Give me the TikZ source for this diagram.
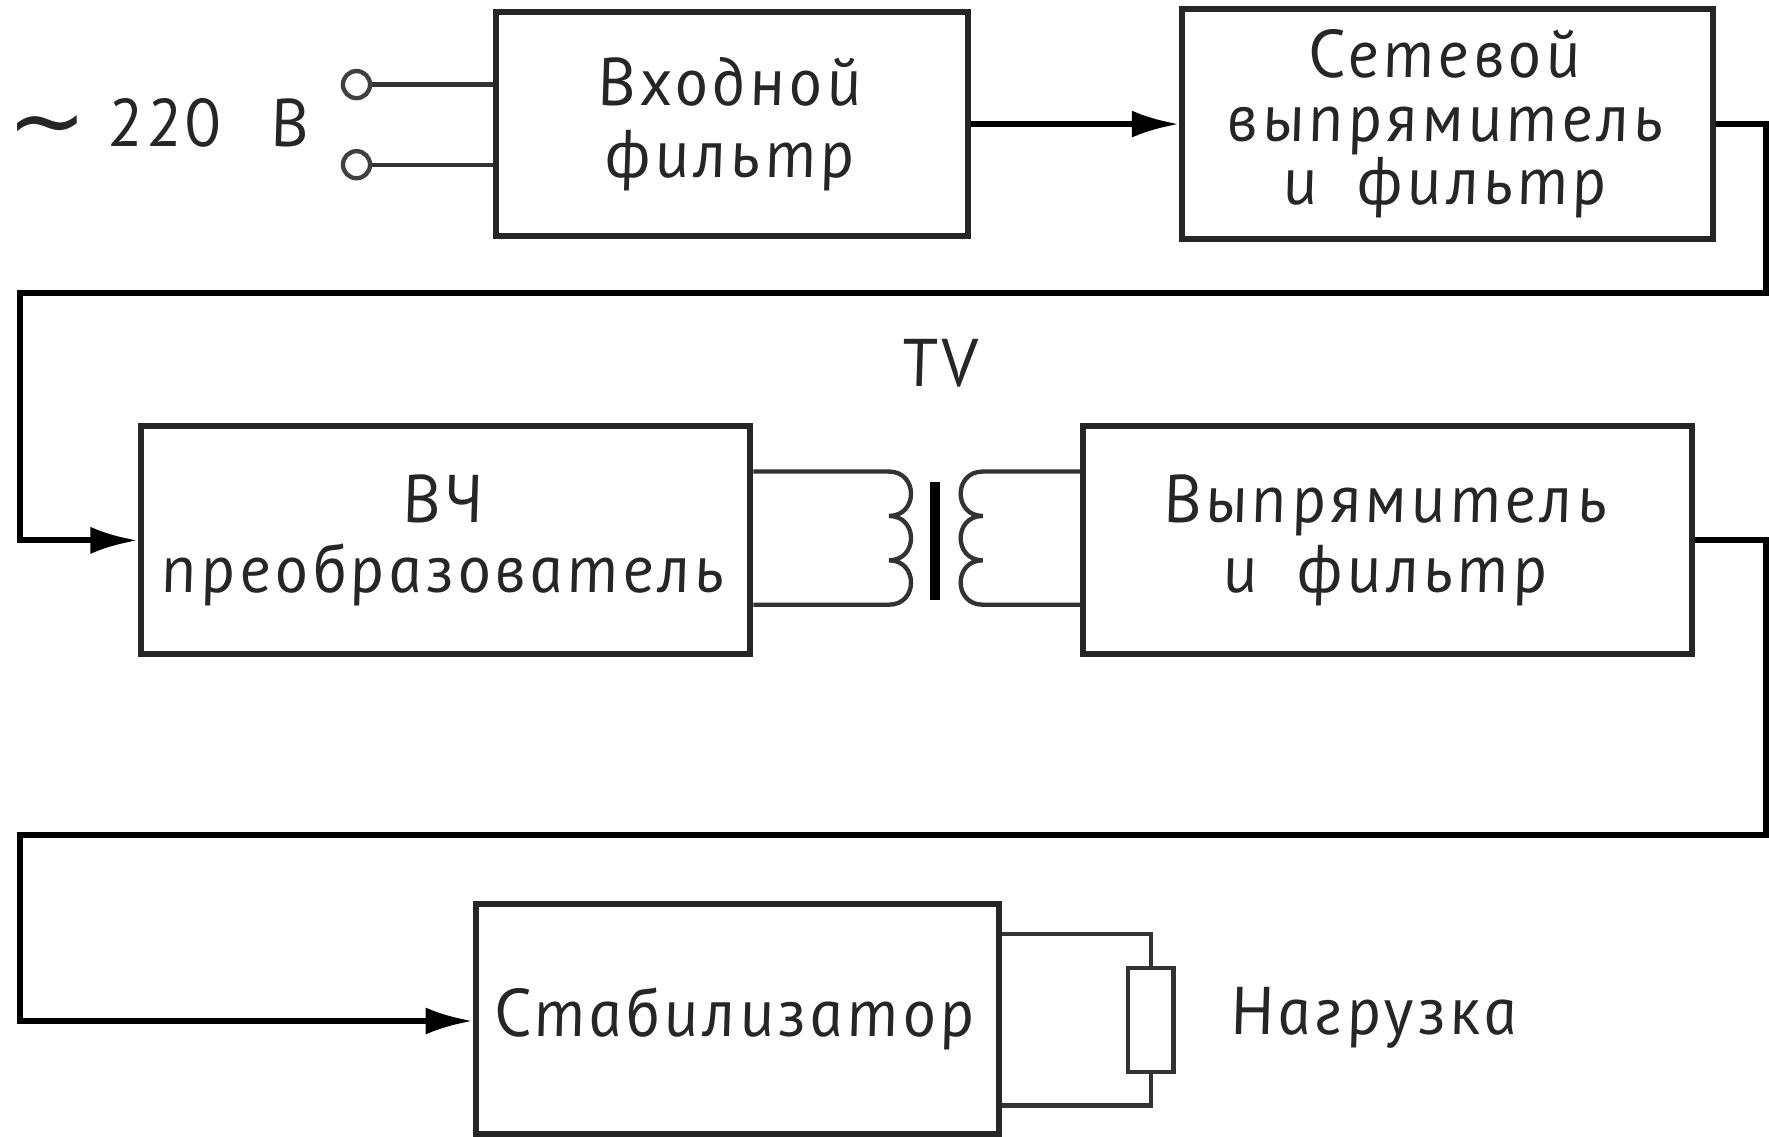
\documentclass[tikz,border=0pt]{standalone}
\usepackage{fontspec}
\setmainfont{PT Sans Italic}[FakeSlant=-0.18, LetterSpace=6]
\newfontfamily\symfont{DejaVu Sans}
\usetikzlibrary{arrows.meta}
\begin{document}
\begin{tikzpicture}[x=0.01cm,y=-0.01cm,
  font=\fontsize{17}{17.5}\selectfont,
  blk/.style={draw=black!85, line width=1.5pt, align=center, inner sep=0pt, text=black!85},
  wire/.style={line width=1.5pt, black},
  thinw/.style={line width=1.1pt, black!80},
  arr/.style={-{Latex[length=0.42cm,width=0.24cm]}},
  term/.style={circle, draw=black!75, line width=1.1pt, minimum size=0.24cm, inner sep=0pt},
  res/.style={draw=black!80, line width=1.1pt, minimum width=0.4cm, minimum height=0.92cm, inner sep=0pt},
  lbl/.style={text=black!85, inner sep=0pt}]
\useasboundingbox (0,0) rectangle (1568,1007);

% blocks
\node[blk, minimum width=4.18cm, minimum height=1.98cm, font=\fontsize{17}{18}\selectfont] (b1) at (649,110) {Входной\\фильтр};
\node[blk, minimum width=4.70cm, minimum height=2.04cm, font=\fontsize{17}{16}\selectfont] (b2) at (1283,110) {Сетевой\\выпрямитель\\и\hspace{0.35cm}фильтр};
\node[blk, minimum width=5.40cm, minimum height=2.02cm] (b3) at (395,479) {ВЧ\\преобразователь};
\node[blk, minimum width=5.40cm, minimum height=2.02cm] (b4) at (1230,479) {Выпрямитель\\и\hspace{0.35cm}фильтр};
\node[blk, minimum width=4.63cm, minimum height=2.04cm] (b5) at (653.5,903) {Стабилизатор};

% mains input
\node[lbl] (src) at (141,112) {\raisebox{-0.06cm}{\symfont\fontsize{24}{24}\selectfont ∼}\hspace{0.2cm}220\hspace{0.45cm}В};
\node[term] (t1) at (316,75) {};
\node[term] (t2) at (316,146) {};
\draw[thinw] (t1.east) -- (b1.west |- t1);
\draw[thinw] (t2.east) -- (b1.west |- t2);

% connectors
\draw[wire, arr] (b1.east) -- (b2.west);
\coordinate (c1) at (1565,260);
\coordinate (c2) at (18,260);
\draw[wire, arr] (b2.east) -| (c1) -- (c2) |- (b3.west);
\coordinate (c3) at (1565,740);
\coordinate (c4) at (18,740);
\coordinate (c5) at (18,905);
\draw[wire, arr] (b4.east) -| (c3) -- (c4) -- (c5) -- (b5.west |- c5);

% transformer
\coordinate (pa) at (788,418);
\coordinate (pb) at (788,536);
\coordinate (sa) at (871,418);
\coordinate (sb) at (871,536);
\draw[thinw] (b3.east |- pa) -- (pa)
  .. controls (814,418) and (814,457.33) .. (788,457.33)
  .. controls (814,457.33) and (814,496.67) .. (788,496.67)
  .. controls (814,496.67) and (814,536) .. (pb) -- (b3.east |- pb);
\draw[thinw] (b4.west |- sa) -- (sa)
  .. controls (845,418) and (845,457.33) .. (871,457.33)
  .. controls (845,457.33) and (845,496.67) .. (871,496.67)
  .. controls (845,496.67) and (845,536) .. (sb) -- (b4.west |- sb);
\coordinate (ka) at (829,427);
\coordinate (kb) at (829,532);
\draw[line width=2.6pt, black] (ka) -- (kb);
\node[lbl] (tv) at (835,322) {TV};

% load
\node[res] (R) at (1020,904) {};
\coordinate (la) at (1020,828);
\coordinate (lb) at (1020,980);
\draw[thinw] (R.north) -- (la) -- (b5.east |- la);
\draw[thinw] (R.south) -- (lb) -- (b5.east |- lb);
\node[lbl] (load) at (1220,902) {Нагрузка};
\end{tikzpicture}
\end{document}
